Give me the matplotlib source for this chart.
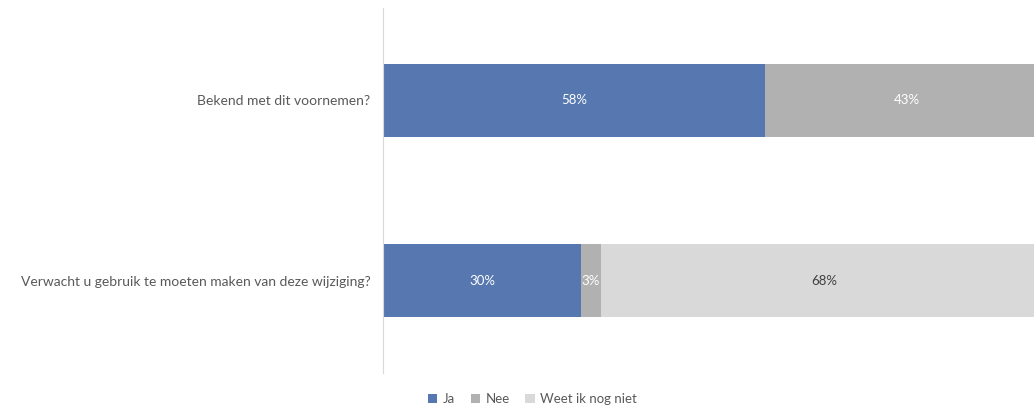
import matplotlib.pyplot as plt
import numpy as np

plt.rcParams['font.family'] = ['Lato', 'DejaVu Sans']

# survey questions, top to bottom
vragen = ["Bekend met dit voornemen?",
          "Verwacht u gebruik te moeten maken van deze wijziging?"]
antwoorden = ["Ja", "Nee", "Weet ik nog niet"]
ja = [58, 30]
nee = [43, 3]
weet_niet = [0, 68]

kleuren = ["#5677B0", "#B1B1B1", "#D9D9D9"]
tekstkleur = ["white", "white", "#404040"]

fig = plt.figure(figsize=(10.34, 4.07), dpi=100)
ax = fig.add_axes([0.3704, 0.0835, 0.644, 0.897])

y = np.arange(len(vragen))
links = np.zeros(len(vragen))
for naam, waarden, kleur, tk in zip(antwoorden, [ja, nee, weet_niet], kleuren, tekstkleur):
    bars = ax.barh(y, waarden, left=links, height=0.403, color=kleur, label=naam)
    for b, w in zip(bars, waarden):
        if w > 0:
            ax.text(b.get_x() + b.get_width() / 2, b.get_y() + b.get_height() / 2,
                    f"{w}%", ha="center", va="center", color=tk, fontsize=9.5)
    links += np.array(waarden)

ax.set_xlim(0, 101)
ax.set_ylim(1.51, -0.51)
ax.set_yticks(y)
ax.set_yticklabels(vragen, fontsize=10, color="#595959")
ax.tick_params(axis="y", length=0, pad=9)
ax.set_xticks([])
for s in ["top", "right", "bottom"]:
    ax.spines[s].set_visible(False)
ax.spines["left"].set_color("#D9D9D9")

fig.legend(loc="lower center", bbox_to_anchor=(0.515, -0.025), ncol=3, frameon=False,
           fontsize=9.5, labelcolor="#595959", handlelength=0.7, handleheight=0.7,
           handletextpad=0.4, columnspacing=1.2)

fig.savefig("out.png", dpi=100)
